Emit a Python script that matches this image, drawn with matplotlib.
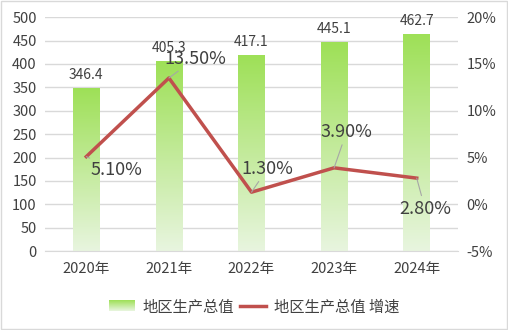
import matplotlib.pyplot as plt
import numpy as np
from matplotlib.colors import LinearSegmentedColormap
from matplotlib.patches import Rectangle
from matplotlib.lines import Line2D
from matplotlib.legend_handler import HandlerBase
from matplotlib.image import BboxImage
from matplotlib.transforms import Bbox, TransformedBbox

plt.rcParams['font.family'] = ['Noto Sans CJK SC', 'DejaVu Sans']

jahre = ['2020年', '2021年', '2022年', '2023年', '2024年']
gdp = [346.4, 405.3, 417.1, 445.1, 462.7]
wachstum = [5.1, 13.5, 1.3, 3.9, 2.8]
label_versatz = [(22, -10), (19, 14), (11.5, 17), (9, 26), (6, -22)]  # Punkte, Beschriftung der Prozentwerte

gruen_oben = '#9ee057'
gruen_unten = '#e8f5df'
rot = '#c0504d'
text_farbe = '#404040'
verlauf = LinearSegmentedColormap.from_list('verlauf', [gruen_unten, gruen_oben])

fig = plt.figure(figsize=(5.08, 3.30), dpi=100)
fig.patches.append(Rectangle((0.002, 0.003), 0.996, 0.994, transform=fig.transFigure,
                             fill=False, edgecolor='#d9d9d9', linewidth=1))
ax = fig.add_axes([0.0886, 0.239, 0.813, 0.709])
ax2 = ax.twinx()

x = np.arange(len(jahre))
balken = ax.bar(x, gdp, width=0.32, color='none', zorder=2)
grad = np.linspace(0, 1, 256).reshape(-1, 1)
for b in balken:
    x0, w, h = b.get_x(), b.get_width(), b.get_height()
    ax.imshow(grad, cmap=verlauf, origin='lower', aspect='auto',
              extent=(x0, x0 + w, 0, h), zorder=2)
for xi, wert in zip(x, gdp):
    ax.annotate(f'{wert}', (xi, wert), xytext=(0, 5), textcoords='offset points',
                ha='center', va='bottom', fontsize=10, color=text_farbe)

ax.set_xlim(-0.5, len(jahre) - 0.5)
ax.set_ylim(0, 500)
ax.set_yticks(np.arange(0, 501, 50))
ax.set_xticks(x)
ax.set_xticklabels(jahre)
ax.grid(axis='y', color='#d9d9d9', linewidth=1, zorder=0)
ax.set_axisbelow(True)

ax2.plot(x, wachstum, color=rot, linewidth=2.5, zorder=3)
ax2.set_ylim(-5, 20)
ax2.set_yticks(np.arange(-5, 21, 5))
ax2.set_yticklabels([f'{v}%' for v in range(-5, 21, 5)])
for xi, w, (dx, dy) in zip(x, wachstum, label_versatz):
    ax2.annotate(f'{w:.2f}%', (xi, w), xytext=(dx, dy), textcoords='offset points',
                 ha='center', va='center', fontsize=13, color=text_farbe,
                 arrowprops=dict(arrowstyle='-', color='#a6a6a6', lw=0.8,
                                 shrinkA=1, shrinkB=0))

for a in (ax, ax2):
    for s in a.spines.values():
        s.set_visible(False)
    a.tick_params(length=0, labelsize=10.5, colors=text_farbe)
ax.spines['bottom'].set_visible(True)
ax.spines['bottom'].set_color('#d9d9d9')
ax.tick_params(axis='x', pad=8)
ax.tick_params(axis='y', pad=6)
ax2.tick_params(axis='y', pad=6)


class VerlaufHandler(HandlerBase):
    def create_artists(self, legend, orig, xd, yd, width, height, fontsize, trans):
        bild = np.linspace(0, 1, 64).reshape(-1, 1)
        bbox = TransformedBbox(Bbox.from_bounds(xd, yd, width, height), trans)
        bi = BboxImage(bbox, cmap=verlauf, origin='lower', interpolation='bilinear')
        bi.set_data(bild)
        return [bi]


patch = Rectangle((0, 0), 1, 1)
linie = Line2D([], [], color=rot, linewidth=2.5)
fig.legend([patch, linie], ['地区生产总值', '地区生产总值 增速'], loc='center',
           bbox_to_anchor=(0.5, 0.07), ncol=2, frameon=False, fontsize=11,
           handler_map={patch: VerlaufHandler()}, handlelength=1.7, handletextpad=0.5,
           columnspacing=0.4, labelcolor=text_farbe)

fig.savefig('out.png', dpi=100)
